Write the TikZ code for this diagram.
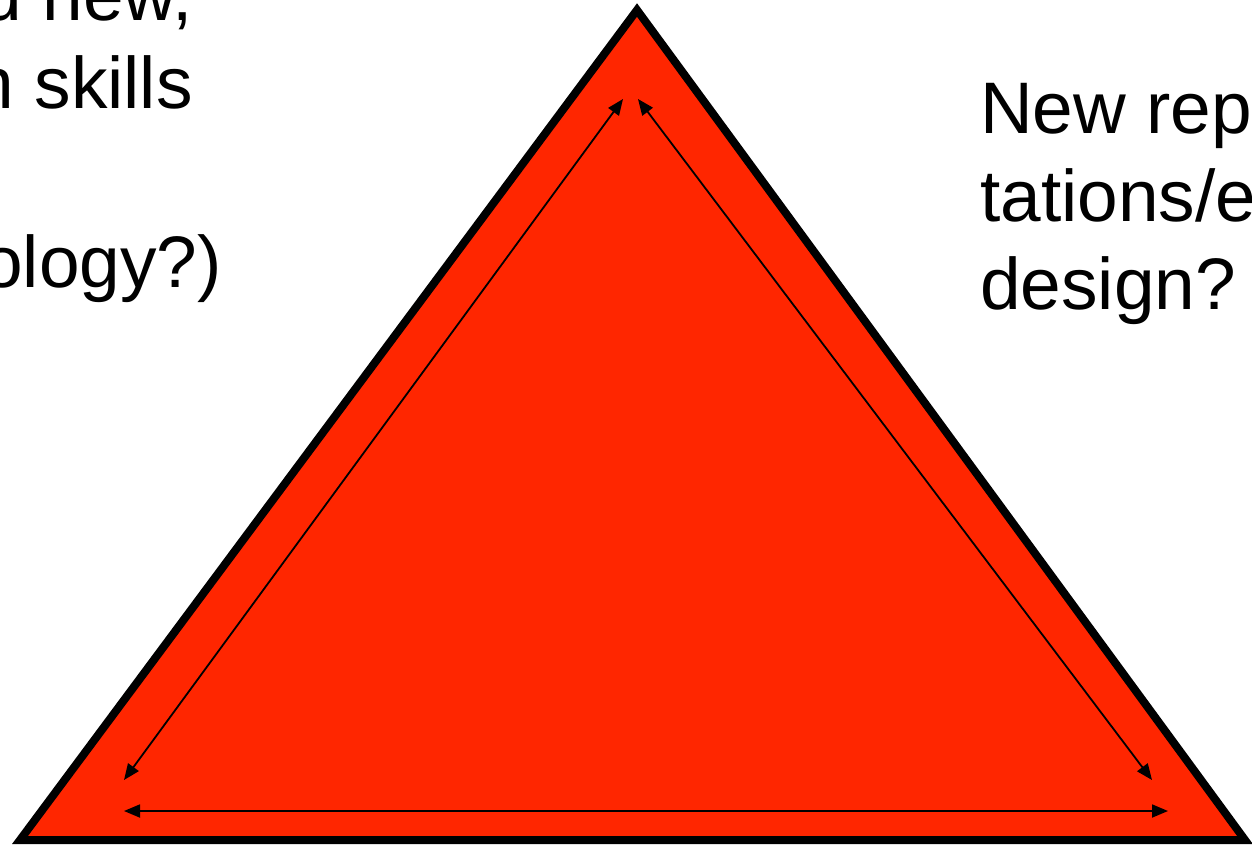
\documentclass[tikz,border=0pt]{standalone}
\usepackage{fontspec}
\setmainfont{Liberation Sans}
\usetikzlibrary{arrows.meta}
\definecolor{trired}{RGB}{255,38,0}
\tikzset{
  lbl/.style={inner sep=0pt, font=\fontsize{73}{88}\selectfont},
  duo/.style={{Triangle[length=16pt,width=13pt]}-{Triangle[length=16pt,width=13pt]}, line width=1.8pt},
}
\begin{document}
\begin{tikzpicture}[x=1pt,y=-1pt]
\useasboundingbox (0,0) rectangle (1252,846);
% triangle
\coordinate (apex) at (637,10);
\coordinate (bl) at (20,840);
\coordinate (br) at (1245,840);
\draw[fill=trired, line width=8pt, line join=miter] (apex) -- (bl) -- (br) -- cycle;
% arrows
\coordinate (a1) at (623,99);
\coordinate (a2) at (124,780);
\coordinate (b1) at (638,99);
\coordinate (b2) at (1152,780);
\coordinate (c1) at (124,811);
\coordinate (c2) at (1168,811);
\draw[duo] (a1) -- (a2);
\draw[duo] (b1) -- (b2);
\draw[duo] (c1) -- (c2);
% left text (clipped)
\node[lbl, anchor=base east] (l1) at (193,20) {and new,};
\node[lbl, anchor=base east] (l2) at (193,108) {n skills};
\node[lbl, anchor=base east] (l3) at (222,287) {ology?)};
% right text
\node[lbl, anchor=base west] (r1) at (980,133) {New rep};
\node[lbl, anchor=base west] (r2) at (980,221) {tations/e};
\node[lbl, anchor=base west] (r3) at (980,309) {design?};
\end{tikzpicture}
\end{document}
